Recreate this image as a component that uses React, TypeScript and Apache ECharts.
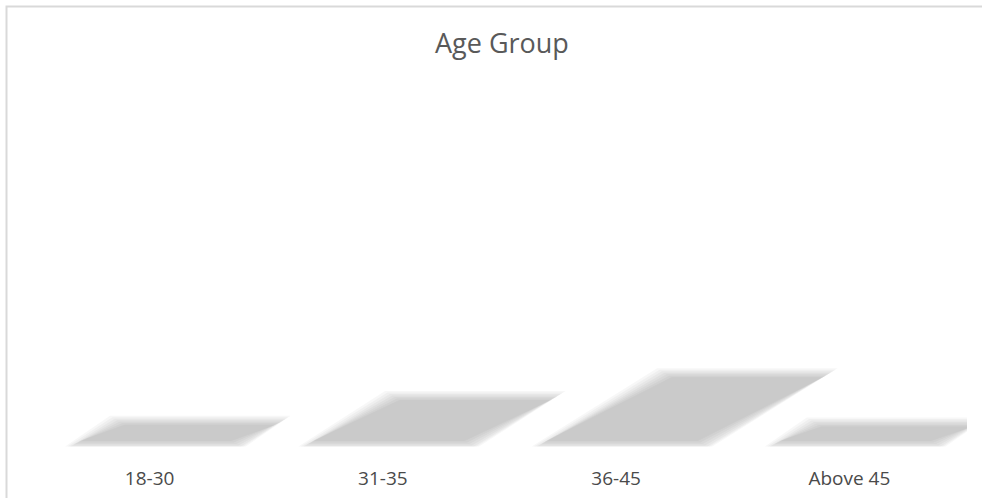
import React, { useEffect, useRef } from "react";
import * as echarts from "echarts";

const categories = ["18-30", "31-35", "36-45", "Above 45"];
const shareValues = [15, 29, 42, 14];
const titleText = "Age Group";

const SHADOW_RATIO = 0.24;
const SKEW = 1.7;
const BLUR_STEPS = [-5, -3.5, -2, -0.5, 1, 2.5, 4];
const LAYER_ALPHA = 1 - Math.pow(0.8, 1 / BLUR_STEPS.length);

export default function App() {
  const ref = useRef<HTMLDivElement>(null);
  useEffect(() => {
    if (!ref.current) return;
    const chart = echarts.init(ref.current, undefined, { renderer: "svg" });
    chart.setOption({
      animation: false,
      backgroundColor: "#ffffff",
      title: {
        text: titleText,
        left: 435,
        top: 29,
        padding: 0,
        textStyle: {
          fontFamily: "Open Sans",
          fontSize: 27,
          fontWeight: "normal",
          color: "#595959",
        },
      },
      grid: { left: 33, right: 16, top: 80, bottom: 52 },
      xAxis: {
        type: "category",
        data: categories,
        axisLine: { show: false },
        axisTick: { show: false },
        splitLine: { show: false },
        axisLabel: {
          margin: 22,
          fontFamily: "Open Sans",
          fontSize: 19,
          color: "#4a4a4a",
        },
      },
      yAxis: { type: "value", min: 0, max: 50, show: false },
      series: [
        {
          type: "custom",
          clip: false,
          data: shareValues.map((v, i) => [i, v]),
          encode: { x: 0, y: 1 },
          renderItem: (params: any, api: any) => {
            const idx = api.value(0);
            const base = api.coord([idx, 0]);
            const top = api.coord([idx, api.value(1)]);
            const band = api.size([1, 0])[0];
            const h = (base[1] - top[1]) * SHADOW_RATIO;
            const left = base[0] - band * 0.335;
            const w = band * 0.72;
            const dx = h * SKEW;
            const yb = base[1];
            const yt = base[1] - h;
            const children = BLUR_STEPS.map((d) => ({
              type: "polygon",
              shape: {
                points: [
                  [left - d * 1.6, yb + Math.min(d, 0.5)],
                  [left + w + d * 1.6, yb + Math.min(d, 0.5)],
                  [left + w + dx + d * 1.6, yt - d],
                  [left + dx - d * 1.6, yt - d],
                ],
              },
              style: { fill: `rgba(0,0,0,${LAYER_ALPHA.toFixed(4)})` },
            }));
            return { type: "group", children };
          },
        },
      ],
      graphic: [
        {
          type: "rect",
          z: 100,
          shape: { x: 967, y: 300, width: 20, height: 160 },
          style: { fill: "#ffffff" },
        },
        {
          type: "rect",
          z: 101,
          shape: { x: 6.5, y: 6.5, width: 1200, height: 800 },
          style: { fill: "none", stroke: "#d9d9d9", lineWidth: 2 },
        },
      ],
    });
    return () => chart.dispose();
  }, []);
  return (
    <div
      ref={ref}
      style={{ position: "fixed", left: 0, top: 0, width: 982, height: 498 }}
    />
  );
}
